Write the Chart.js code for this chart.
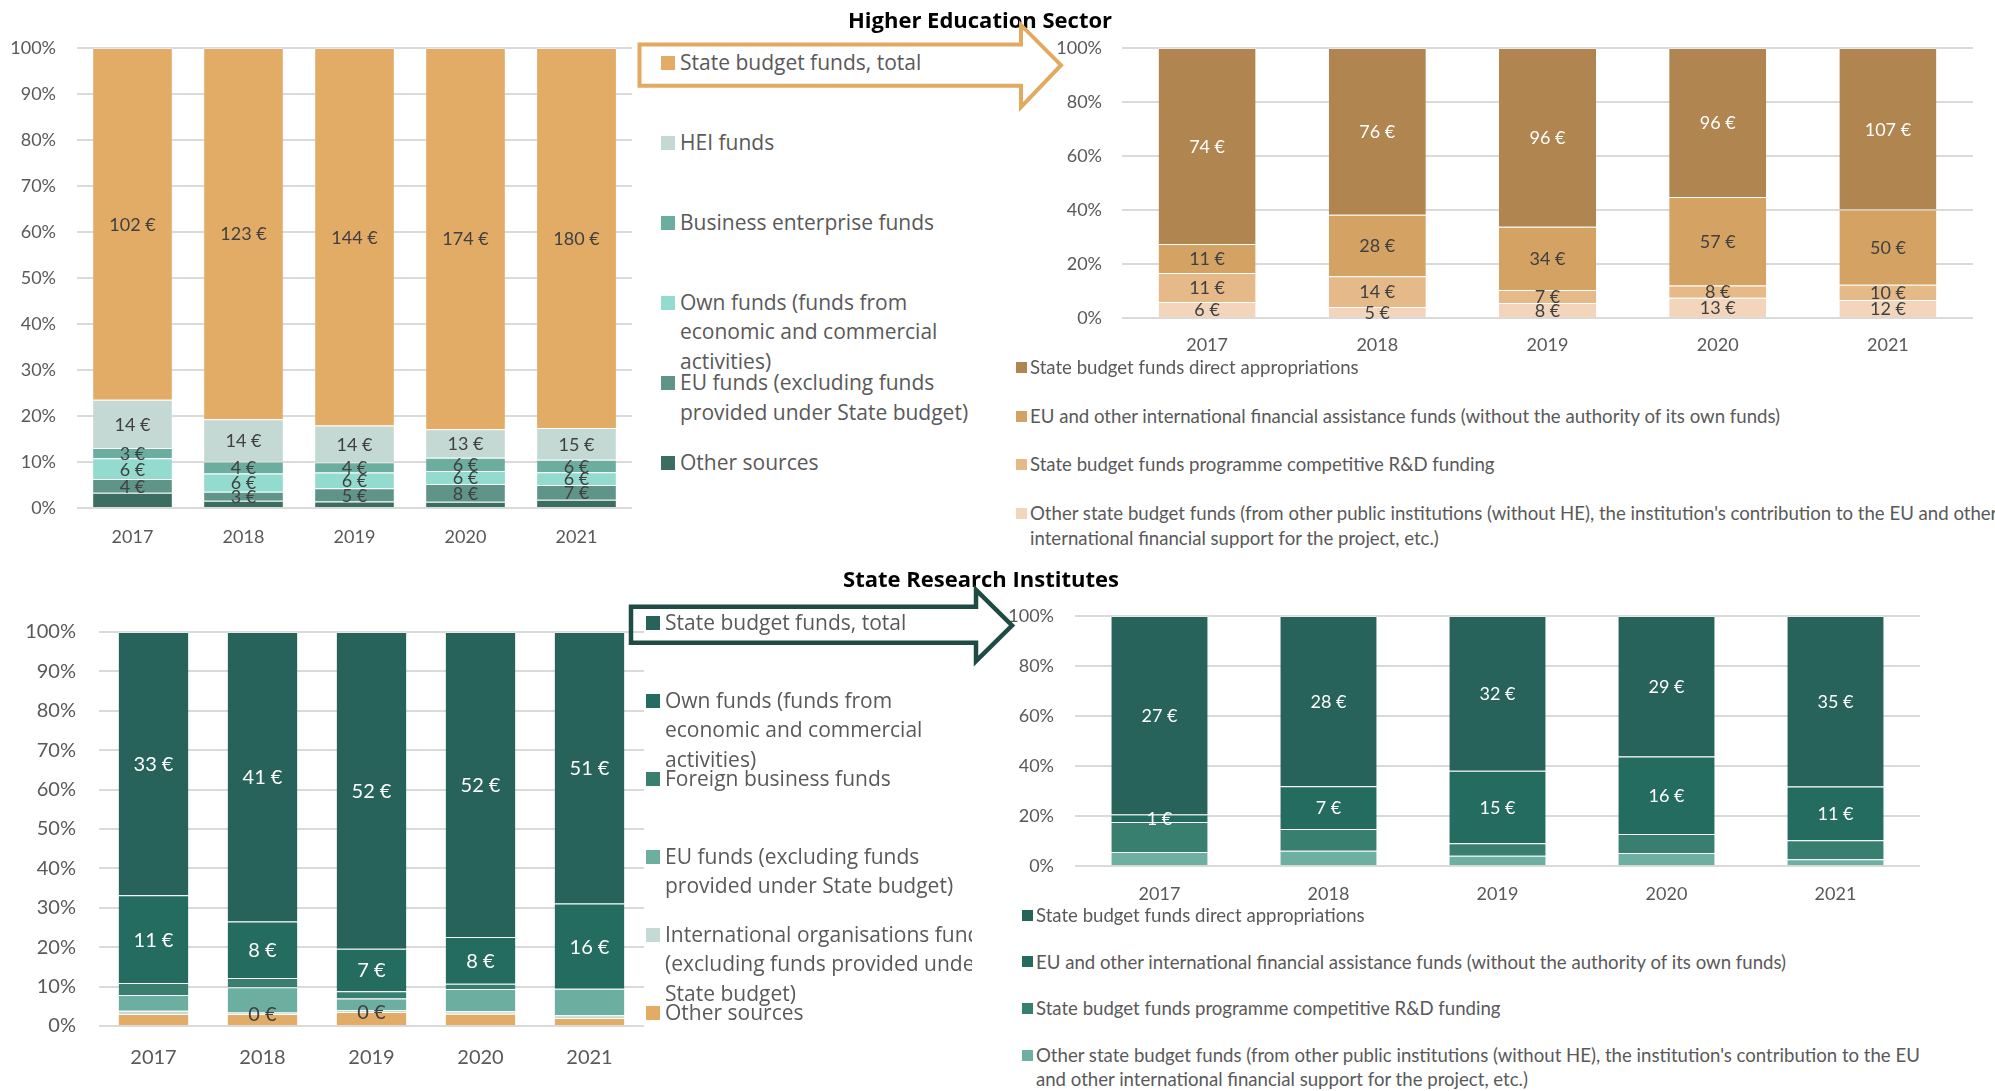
<!DOCTYPE html>
<html><head><meta charset="utf-8">
<script src="https://cdn.jsdelivr.net/npm/chart.js@4.4.1/dist/chart.umd.min.js"></script>
<style>
html,body{margin:0;padding:0;width:1995px;height:1091px;overflow:hidden;background:#fff;}
.cv{position:absolute;display:block;}
.title{position:absolute;font-family:'Open Sans';font-weight:700;font-size:22px;color:#000;white-space:nowrap;transform:translate(-50%,-50%);}
.lgItem{position:absolute;white-space:pre;color:#595959;}
.lgMark{position:absolute;}
.clip{position:absolute;overflow:hidden;}
svg.ov{position:absolute;left:0;top:0;pointer-events:none;}
</style></head><body>
<canvas id="cHeTotal" class="cv" width="632" height="560" style="left:0;top:0"></canvas>
<canvas id="cHeBreak" class="cv" width="973" height="362" style="left:1000px;top:0"></canvas>
<canvas id="cSrTotal" class="cv" width="644" height="511" style="left:0;top:580px"></canvas>
<canvas id="cSrBreak" class="cv" width="920" height="330" style="left:1000px;top:580px"></canvas>
<div class="title" style="left:980px;top:19px">Higher Education Sector</div>
<div class="title" style="left:981px;top:578px">State Research Institutes</div>
<div id="lgHeTotal"></div>
<div id="lgHeBreak"></div>
<div id="lgSrTotal" class="clip" style="left:640px;top:590px;width:332px;height:460px"></div>
<div id="lgSrBreak"></div>
<svg class="ov" width="1995" height="1091">
  <polygon points="639.5,44.6 1021,44.6 1021,25 1061,65.2 1021,107 1021,85.7 639.5,85.7" fill="none" stroke="#E2A961" stroke-width="4"/>
  <polygon points="631,606.7 976,606.7 976,590 1012,625.5 976,661 976,642.7 631,642.7" fill="none" stroke="#1E4B43" stroke-width="4.5"/>
</svg>
<script>
// ---------- DATA ----------
const years = ['2017', '2018', '2019', '2020', '2021'];

// Higher Education Sector – sources of R&D funds (million €)
const heNames = [
  'State budget funds, total',
  'HEI funds',
  'Business enterprise funds',
  'Own funds (funds from\neconomic and commercial\nactivities)',
  'EU funds (excluding funds\nprovided under State budget)',
  'Other sources'
];
const heStateBudget = [102, 123, 144, 174, 180];
const heHEI         = [14, 14, 14, 13, 15];
const heBusiness    = [3, 4, 4, 6, 6];
const heOwn         = [6, 6, 6, 6, 6];
const heEU          = [4, 3, 5, 8, 7];
const heOther       = [4.4, 2.4, 2.5, 2.9, 3.9];

// Higher Education Sector – State budget funds breakdown
const heBreakNames = [
  'State budget funds direct appropriations',
  'EU and other international financial assistance funds (without the authority of its own funds)',
  'State budget funds programme competitive R&D funding',
  "Other state budget funds (from other public institutions (without HE), the institution's contribution to the EU and other\ninternational financial support for the project, etc.)"
];
const heDirect     = [74, 76, 96, 96, 107];
const heEUIntl     = [11, 28, 34, 57, 50];
const heProgramme  = [11, 14, 7, 8, 10];
const heOtherState = [6, 5, 8, 13, 12];

// State Research Institutes – sources of R&D funds
const srNames = [
  'State budget funds, total',
  'Own funds (funds from\neconomic and commercial\nactivities)',
  'Foreign business funds',
  'EU funds (excluding funds\nprovided under State budget)',
  'International organisations funds\n(excluding funds provided under\nState budget)',
  'Other sources'
];
const srStateBudget = [33, 41, 52, 52, 51];
const srOwn         = [11, 8, 7, 8, 16];
const srForeign     = [1.5, 1.3, 1.2, 0.9, 0];
const srEU          = [2, 3.6, 1.9, 3.8, 5];
const srIntl        = [0.4, 0.2, 0.3, 0.4, 0.5];
const srOther       = [1.5, 1.7, 2.3, 2.1, 1.5];
const srIntlLabelShown = [false, true, true, false, false];

// State Research Institutes – State budget funds breakdown
const srBreakNames = [
  'State budget funds direct appropriations',
  'EU and other international financial assistance funds (without the authority of its own funds)',
  'State budget funds programme competitive R&D funding',
  "Other state budget funds (from other public institutions (without HE), the institution's contribution to the EU\nand other international financial support for the project, etc.)"
];
const srDirect     = [27, 28, 32, 29, 35];
const srEUIntl     = [1, 7, 15, 16, 11];
const srProgramme  = [4.1, 3.6, 2.6, 3.9, 3.9];
const srOtherState = [1.9, 2.5, 2.1, 2.7, 1.4];

// ---------- STYLE ----------
const heColors      = ['#E2AC67', '#C5D9D4', '#6BAE9F', '#93DBCF', '#5F9589', '#3B6E60'];
const heBreakColors = ['#B0854F', '#D4A263', '#E6B988', '#F2D5BB'];
const srColors      = ['#27635A', '#246B60', '#387F70', '#6CAFA1', '#C6DAD5', '#E2AC67'];
const srBreakColors = ['#27635A', '#246B60', '#387F70', '#6DAFA1'];
const DARK = '#404040', WHITE = '#ffffff';

Chart.defaults.font.family = 'Lato';

const valueLabels = {
  id: 'valueLabels',
  afterDatasetsDraw(chart) {
    const ctx = chart.ctx;
    chart.data.datasets.forEach((ds, i) => {
      if (!ds.showLabels) return;
      const meta = chart.getDatasetMeta(i);
      meta.data.forEach((el, j) => {
        if (ds.labelMask && !ds.labelMask[j]) return;
        const p = el.getProps(['x', 'y', 'base'], true);
        ctx.save();
        ctx.font = ds.labelSize + 'px Lato';
        ctx.fillStyle = ds.labelColor;
        ctx.textAlign = 'center';
        ctx.textBaseline = 'middle';
        ctx.fillText(Math.round(ds.raw[j]) + ' €', p.x, (p.y + p.base) / 2 + 1);
        ctx.restore();
      });
    });
  }
};

// series given top-to-bottom (legend order); stacked bottom-up
function buildDatasets(seriesList, colors, labelInfo, size) {
  const totals = years.map((_, j) => seriesList.reduce((s, a) => s + a[j], 0));
  const ds = seriesList.map((arr, k) => ({
    label: 'S' + k,
    raw: arr,
    data: arr.map((v, j) => v / totals[j] * 100),
    backgroundColor: colors[k],
    borderColor: 'rgba(255,255,255,0.35)',
    borderWidth: {top: 1, left: 0, right: 0, bottom: 0},
    borderSkipped: false,
    showLabels: labelInfo[k] !== null,
    labelColor: labelInfo[k] ? labelInfo[k].color : DARK,
    labelMask: labelInfo[k] ? labelInfo[k].mask : null,
    labelSize: size
  }));
  return ds.reverse();
}

function makeChart(id, datasets, c) {
  return new Chart(document.getElementById(id), {
    type: 'bar',
    data: {labels: years, datasets},
    options: {
      responsive: false, animation: false,
      layout: {padding: {top: c.padTop, left: 0, right: 0, bottom: 0}},
      plugins: {legend: {display: false}, tooltip: {enabled: false}},
      datasets: {bar: {categoryPercentage: 1, barPercentage: c.barPct}},
      scales: {
        x: {
          stacked: true,
          grid: {display: false, drawTicks: false},
          border: {display: false},
          ticks: {font: {size: c.tick}, color: '#595959', padding: c.xPad},
          afterFit(s) { s.height = c.xH; }
        },
        y: {
          stacked: true, min: 0, max: 100,
          grid: {color: '#DADADA', lineWidth: 2, drawTicks: false},
          border: {display: false},
          ticks: {stepSize: c.step, font: {size: c.tick}, color: '#595959', padding: c.yPad,
                  callback: v => v + '%'},
          afterFit(s) { s.width = c.yW; }
        }
      }
    },
    plugins: [valueLabels]
  });
}

const L = (color, mask) => ({color, mask: mask || null});

makeChart('cHeTotal',
  buildDatasets([heStateBudget, heHEI, heBusiness, heOwn, heEU, heOther], heColors,
    [L(DARK), L(DARK), L(DARK), L(DARK), L(DARK), null], 18),
  {padTop: 48, barPct: 0.71, tick: 18, xPad: 18, xH: 52, yW: 77, yPad: 21, step: 10});

makeChart('cHeBreak',
  buildDatasets([heDirect, heEUIntl, heProgramme, heOtherState], heBreakColors,
    [L(WHITE), L(DARK), L(DARK), L(DARK)], 18),
  {padTop: 48, barPct: 0.57, tick: 18, xPad: 16, xH: 44, yW: 122, yPad: 20, step: 20});

makeChart('cSrTotal',
  buildDatasets([srStateBudget, srOwn, srForeign, srEU, srIntl, srOther], srColors,
    [L(WHITE), L(WHITE), null, null, L(DARK, srIntlLabelShown), null], 20),
  {padTop: 52, barPct: 0.64, tick: 20, xPad: 20, xH: 65, yW: 99, yPad: 23, step: 10});

makeChart('cSrBreak',
  buildDatasets([srDirect, srEUIntl, srProgramme, srOtherState], srBreakColors,
    [L(WHITE), L(WHITE), null, null], 18),
  {padTop: 36, barPct: 0.57, tick: 18, xPad: 17, xH: 44, yW: 75, yPad: 21, step: 20});

// ---------- LEGENDS ----------
function legend(hostId, names, colors, o) {
  const host = document.getElementById(hostId);
  const offX = o.offX || 0, offY = o.offY || 0;
  names.forEach((n, i) => {
    const yc = o.y0 + i * o.dy;
    const m = document.createElement('div');
    m.className = 'lgMark';
    m.style.cssText = `left:${o.markX - offX}px;top:${yc - o.ms / 2 - offY}px;width:${o.ms}px;height:${o.ms}px;background:${colors[i]}`;
    host.appendChild(m);
    const t = document.createElement('div');
    t.className = 'lgItem';
    t.textContent = n;
    t.style.cssText = `left:${o.textX - offX}px;top:${yc - o.lh / 2 - offY}px;font-family:${o.font};font-size:${o.size}px;line-height:${o.lh}px`;
    host.appendChild(t);
  });
}
legend('lgHeTotal', heNames, heColors,
  {y0: 62.5, dy: 80.1, markX: 661, textX: 680, ms: 14, font: "'Open Sans'", size: 21, lh: 29.3});
legend('lgHeBreak', heBreakNames, heBreakColors,
  {y0: 367.3, dy: 48.7, markX: 1016, textX: 1030, ms: 11, font: 'Lato', size: 18.6, lh: 25});
legend('lgSrTotal', srNames, srColors,
  {y0: 622.7, dy: 78, markX: 646, textX: 665, ms: 14, font: "'Open Sans'", size: 21, lh: 29.3, offX: 640, offY: 590});
legend('lgSrBreak', srBreakNames, srBreakColors,
  {y0: 915, dy: 46.7, markX: 1022, textX: 1036, ms: 11, font: 'Lato', size: 18.6, lh: 24.3});
</script>
</body></html>
